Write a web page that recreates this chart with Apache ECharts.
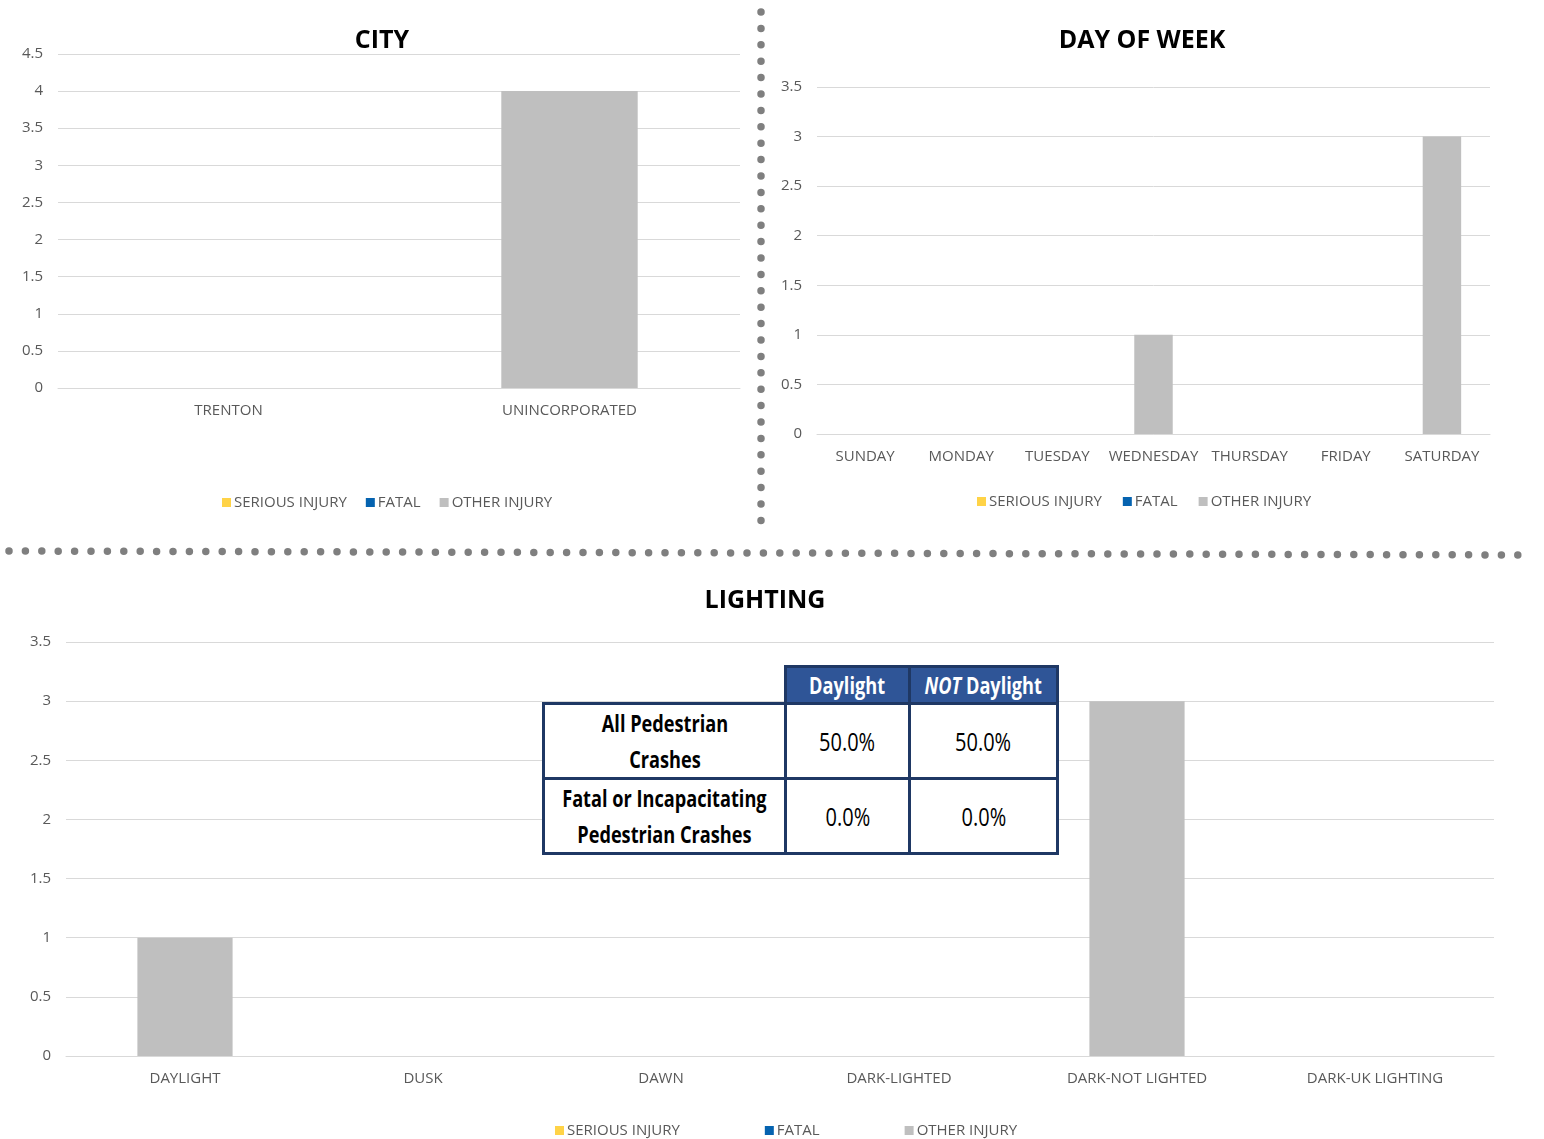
<!DOCTYPE html>
<html><head><meta charset="utf-8">
<script src="https://cdn.jsdelivr.net/npm/echarts@6/dist/echarts.min.js"></script>
<style>
html,body{margin:0;padding:0;background:#fff;}
#c{width:1544px;height:1139px;position:absolute;left:0;top:0;}
#tbl{position:absolute;left:542px;top:665px;font-family:"Open Sans",sans-serif;}
.cell{position:absolute;box-sizing:border-box;display:flex;align-items:center;justify-content:center;text-align:center;font-size:23px;line-height:36px;color:#000;overflow:visible;}
.cell span.t{display:inline-block;white-space:nowrap;transform:scaleX(0.79);}
.hd{background:#2f5597;color:#fff;font-weight:bold;border:3px solid #1f3864;}
.bd{background:#fff;border:3px solid #1f3864;}
.rh{font-weight:bold;}
.val{font-size:25px;}
.val span.t{transform:scaleX(0.8);}
</style></head><body>
<div id="c"></div>
<div id="tbl"></div>
<script>
const seriesNames = ['SERIOUS INJURY','FATAL','OTHER INJURY'];
const seriesColors = ['#ffd347','#0563b0','#bfbfbf'];

const cityCats = ['TRENTON','UNINCORPORATED'];
const citySerious = [0,0];
const cityFatal = [0,0];
const cityOther = [0,4];

const dayCats = ['SUNDAY','MONDAY','TUESDAY','WEDNESDAY','THURSDAY','FRIDAY','SATURDAY'];
const daySerious = [0,0,0,0,0,0,0];
const dayFatal = [0,0,0,0,0,0,0];
const dayOther = [0,0,0,1,0,0,3];

const lightCats = ['DAYLIGHT','DUSK','DAWN','DARK-LIGHTED','DARK-NOT LIGHTED','DARK-UK LIGHTING'];
const lightSerious = [0,0,0,0,0,0];
const lightFatal = [0,0,0,0,0,0];
const lightOther = [1,0,0,0,3,0];

const tableCols = ['Daylight','NOT Daylight'];
const tableRows = ['All Pedestrian\nCrashes','Fatal or Incapacitating\nPedestrian Crashes'];
const tableVals = [['50.0%','50.0%'],['0.0%','0.0%']];

const FONT = '"Open Sans", sans-serif';
const labelColor = '#595959';

function xAx(gi, cats){
  return {type:'category', gridIndex:gi, data:cats,
    axisLine:{lineStyle:{color:'#d9d9d9',width:1}}, axisTick:{show:false},
    axisLabel:{color:labelColor, fontSize:15, fontFamily:FONT, margin:15, interval:0}};
}
function yAx(gi, max){
  return {type:'value', gridIndex:gi, min:0, max:max, interval:0.5,
    axisLine:{show:false}, axisTick:{show:false},
    splitLine:{lineStyle:{color:'#d9d9d9',width:1}},
    axisLabel:{color:labelColor, fontSize:15, fontFamily:FONT, margin:15}};
}
function bars(gi, vals){
  return vals.map((v,i)=>({name:seriesNames[i], type:'bar', xAxisIndex:gi, yAxisIndex:gi,
    stack:'s'+gi, barWidth:'40%', data:v, itemStyle:{color:seriesColors[i]}, silent:true}));
}
function legend(left, top, gap){
  return {left:left, top:top, padding:0, itemWidth:9, itemHeight:9, icon:'rect', itemGap:gap,
    data:seriesNames, textStyle:{color:labelColor, fontSize:15, fontFamily:FONT, padding:[0,0,0,-2]}};
}
function title(text, x, y){
  return {type:'text', x:x, y:y, style:{text:text, textAlign:'center', textVerticalAlign:'middle',
    font:'bold 25px "Open Sans", sans-serif', fill:'#000'}};
}

const chart = echarts.init(document.getElementById('c'), null, {renderer:'canvas'});
chart.setOption({
  animation:false,
  grid:[
    {left:58, top:54, width:682, height:334},
    {left:817, top:87, width:673, height:347},
    {left:66, top:642, width:1428, height:414}
  ],
  xAxis:[xAx(0,cityCats), xAx(1,dayCats), xAx(2,lightCats)],
  yAxis:[yAx(0,4.5), yAx(1,3.5), yAx(2,3.5)],
  legend:[legend(222,495,19), legend(977,494,21), legend(555,1123,85)],
  series:[].concat(
    bars(0,[citySerious,cityFatal,cityOther]),
    bars(1,[daySerious,dayFatal,dayOther]),
    bars(2,[lightSerious,lightFatal,lightOther])
  ),
  graphic:[
    title('CITY',382,41), title('DAY OF WEEK',1142,41), title('LIGHTING',765,601),
    {type:'line', shape:{x1:761,y1:12,x2:761,y2:536}, style:{stroke:'#7f7f7f', lineWidth:7.5, lineCap:'round', lineDash:[0,16.4]}},
    {type:'line', shape:{x1:9,y1:551,x2:1522,y2:555}, style:{stroke:'#7f7f7f', lineWidth:7.5, lineCap:'round', lineDash:[0,16.4]}}
  ]
});

// table overlay
const tbl = document.getElementById('tbl');
const colX = [0, 242, 366, 517];
const rowY = [0, 37, 112, 187];
function cell(x,y,w,h,html,cls){
  const d=document.createElement('div');
  d.className='cell '+cls;
  d.style.left=x+'px'; d.style.top=y+'px'; d.style.width=w+'px'; d.style.height=h+'px';
  d.innerHTML='<span class="t">'+html+'</span>'; tbl.appendChild(d);
}
tableCols.forEach((c,j)=>{
  const html = c.startsWith('NOT ') ? '<i>NOT</i>&nbsp;'+c.slice(4) : c;
  cell(colX[j+1], rowY[0], colX[j+2]-colX[j+1]+(j===0?3:0), rowY[1]-rowY[0]+3, html, 'hd');
});
tableRows.forEach((r,i)=>{
  cell(colX[0], rowY[i+1], colX[1]-colX[0]+3, rowY[i+2]-rowY[i+1]+3, r.replace('\n','<br>'), 'bd rh');
  tableVals[i].forEach((v,j)=>{
    cell(colX[j+1], rowY[i+1], colX[j+2]-colX[j+1]+(j===0?3:0), rowY[i+2]-rowY[i+1]+3, v, 'bd val');
  });
});
</script>
</body></html>
